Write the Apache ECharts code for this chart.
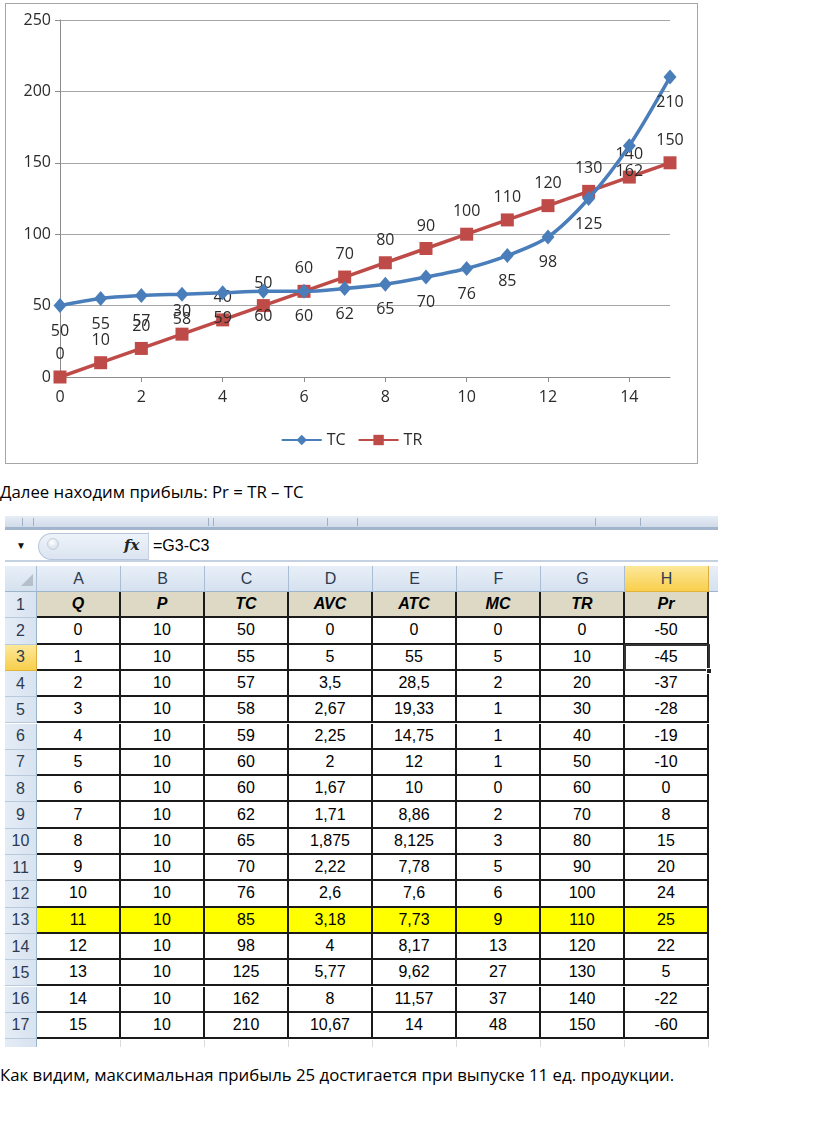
<!DOCTYPE html>
<html><head><meta charset="utf-8">
<script src="https://cdn.jsdelivr.net/npm/echarts@6/dist/echarts.min.js"></script>
<style>
html,body{margin:0;padding:0;background:#fff;}
#page{position:relative;width:816px;height:1146px;overflow:hidden;font-family:'Open Sans',sans-serif;}
#chartBox{position:absolute;left:5px;top:3px;width:691px;height:459px;border:1px solid #a6a6a6;}
#chart{width:691px;height:459px;}
.txt{position:absolute;left:0;white-space:nowrap;color:#000;font-size:16.8px;font-family:'Open Sans',sans-serif;}
.abs{position:absolute;box-sizing:border-box;}
.cell{position:absolute;box-sizing:border-box;display:flex;align-items:center;justify-content:center;font-family:'Liberation Sans',Arial,sans-serif;font-size:16px;color:#000;}
</style></head>
<body><div id="page">
<div id="chartBox"><div id="chart"></div></div>
<div class="txt" style="top:480px;">Далее находим прибыль: Pr = TR – TC</div>
<div id="sheet"></div>
<div class="txt" style="top:1063px;">Как видим, максимальная прибыль 25 достигается при выпуске 11 ед. продукции.</div>
</div>
<script>
// ---- data ----
const Q   = [0,1,2,3,4,5,6,7,8,9,10,11,12,13,14,15];
const P   = [10,10,10,10,10,10,10,10,10,10,10,10,10,10,10,10];
const TC  = [50,55,57,58,59,60,60,62,65,70,76,85,98,125,162,210];
const AVC = ['0','5','3,5','2,67','2,25','2','1,67','1,71','1,875','2,22','2,6','3,18','4','5,77','8','10,67'];
const ATC = ['0','55','28,5','19,33','14,75','12','10','8,86','8,125','7,78','7,6','7,73','8,17','9,62','11,57','14'];
const MC  = [0,5,2,1,1,1,0,2,3,5,6,9,13,27,37,48];
const TR  = [0,10,20,30,40,50,60,70,80,90,100,110,120,130,140,150];
const Pr  = [-50,-45,-37,-28,-19,-10,0,8,15,20,24,25,22,5,-22,-60];
const headers = ['Q','P','TC','AVC','ATC','MC','TR','Pr'];
const colLetters = ['A','B','C','D','E','F','G','H'];
const formula = '=G3-C3';
const seriesNames = ['TC','TR'];

// ---- chart ----
const chart = echarts.init(document.getElementById('chart'), null, {renderer:'canvas'});
const lblFont = {fontFamily:'Open Sans', fontSize:16, color:'#2b2b2b'};
chart.setOption({
  animation:false,
  grid:{left:54, top:16, width:610, height:357, containLabel:false},
  legend:{
    data:seriesNames, left:'center', top:423, itemWidth:40, itemHeight:13, itemGap:12,
    textStyle:{fontFamily:'Open Sans', fontSize:16, color:'#2b2b2b'}
  },
  xAxis:{
    type:'value', min:0, max:15, interval:2,
    axisLine:{lineStyle:{color:'#8c8c8c', width:1}},
    axisTick:{show:true, length:5, lineStyle:{color:'#8c8c8c'}},
    axisLabel:Object.assign({margin:12, showMaxLabel:false}, lblFont),
    splitLine:{show:false}
  },
  yAxis:{
    type:'value', min:0, max:250, interval:50,
    axisLine:{show:true, lineStyle:{color:'#8c8c8c', width:1}},
    axisTick:{show:true, length:5, lineStyle:{color:'#8c8c8c'}},
    axisLabel:Object.assign({margin:9}, lblFont),
    splitLine:{show:true, lineStyle:{color:'#a6a6a6', width:1}}
  },
  series:[
    {
      name:'TC', type:'line', smooth:0.3,
      data:Q.map((q,i)=>[q,TC[i]]),
      symbol:'diamond', symbolSize:[13,15],
      lineStyle:{color:'#4a7ebb', width:3.5},
      itemStyle:{color:'#4a7ebb'},
      label:Object.assign({show:true, position:'bottom', distance:10, formatter:p=>p.value[1]}, lblFont),
      z:3
    },
    {
      name:'TR', type:'line',
      data:Q.map((q,i)=>[q,TR[i]]),
      symbol:'rect', symbolSize:13,
      lineStyle:{color:'#be4b48', width:3.5},
      itemStyle:{color:'#be4b48'},
      label:Object.assign({show:true, position:'top', distance:8, formatter:p=>p.value[1]}, lblFont),
      z:2
    }
  ]
});

// ---- spreadsheet (HTML) ----
const sheet = document.getElementById('sheet');
function add(cls, style, text){
  const d = document.createElement('div');
  d.className = cls;
  d.setAttribute('style', style);
  if(text!==undefined) d.textContent = text;
  sheet.appendChild(d);
  return d;
}
// ribbon bottom strip
add('abs','left:5px;top:516px;width:713px;height:14px;background:linear-gradient(#e6edf6,#d0dbe9);border-bottom:3px solid #a3b5cc;');
[22,33,208,213,327,357,595,640].forEach(x=>add('abs',`left:${x}px;top:518px;width:1px;height:8px;background:#9fb0c4;`));
// formula bar
add('abs','left:5px;top:531px;width:713px;height:31px;background:#fff;border-bottom:2px solid #c3d1e2;');
add('abs','left:14px;top:537px;width:14px;height:16px;font-size:10px;color:#111;line-height:16px;text-align:center;','▼');
add('abs','left:38px;top:533px;width:110px;height:27px;background:linear-gradient(#eef3f9,#dbe4f0);border:1px solid #b6c6da;border-right:none;border-radius:14px 0 0 14px;');
add('abs','left:47px;top:538px;width:12px;height:12px;border-radius:6px;background:radial-gradient(circle at 40% 35%,#fff,#c9d4e2);border:1px solid #c4cfdd;');
add('abs','left:124px;top:534px;width:22px;height:22px;font-family:"DejaVu Serif",serif;font-style:italic;font-weight:bold;font-size:15px;color:#222;line-height:22px;','fx');
add('abs','left:148px;top:532px;width:1px;height:29px;background:#c3d1e2;');
add('abs','left:153px;top:533px;height:26px;line-height:26px;font-family:"Liberation Sans",Arial,sans-serif;font-size:16px;color:#000;white-space:nowrap;',formula);

// grid geometry
const colX = [5,37,121,205,289,373,457,541,625,709];
const hdrTop = 566, hdrH = 26, rowTop = 592, rowH = 26.3;
const hdrBg = 'linear-gradient(#e8eff8,#d5e1ef)';
const selBg = 'linear-gradient(#fde89a,#f8cf4c)';
// corner
add('abs',`left:5px;top:${hdrTop}px;width:32px;height:${hdrH}px;background:${hdrBg};border-right:1px solid #a9bed6;border-bottom:1px solid #9db4cd;`);
add('abs',`left:21px;top:${hdrTop+8}px;width:0;height:0;border-left:12px solid transparent;border-bottom:12px solid #b5bfca;`);
// column headers
colLetters.forEach((L,i)=>{
  const sel = (L==='H');
  add('cell',`left:${colX[i+1]}px;top:${hdrTop}px;width:84px;height:${hdrH}px;background:${sel?selBg:hdrBg};border-right:1px solid ${sel?'#d9ae3c':'#a9bed6'};border-bottom:1px solid ${sel?'#e2b33c':'#9db4cd'};color:#2d3a4f;`, L);
});
add('abs',`left:709px;top:${hdrTop}px;width:9px;height:${hdrH}px;background:${hdrBg};border-bottom:1px solid #9db4cd;`);

// rows
const rows = [headers];
for(let i=0;i<Q.length;i++) rows.push([Q[i],P[i],TC[i],AVC[i],ATC[i],MC[i],TR[i],Pr[i]]);
rows.forEach((r,ri)=>{
  const rn = ri+1;
  const top = rowTop + ri*rowH;
  const sel = (rn===3);
  add('cell',`left:5px;top:${top}px;width:32px;height:${rowH}px;background:${sel?selBg:'linear-gradient(90deg,#e4ecf6,#d8e3f0)'};border-right:1px solid ${sel?'#d9ae3c':'#9db4cd'};border-bottom:1px solid ${sel?'#e2b33c':'#b8c9dc'};color:#2d3a4f;`, rn);
  r.forEach((v,ci)=>{
    let bg = '#fff', extra='';
    if(rn===1){ bg='#ddd9c4'; extra='font-weight:bold;font-style:italic;'; }
    if(rn===13){ bg='#ffff00'; }
    add('cell',`left:${colX[ci+1]}px;top:${top}px;width:84px;height:${rowH}px;background:${bg};border-right:2px solid #1a1a1a;border-bottom:2px solid #1a1a1a;${extra}`, v);
  });
});
// partial row 18
const t18 = rowTop + rows.length*rowH;
add('abs',`left:5px;top:${t18}px;width:32px;height:8px;background:linear-gradient(90deg,#e4ecf6,#d8e3f0);border-right:1px solid #9db4cd;`);
colX.slice(2).forEach(x=>add('abs',`left:${x-1}px;top:${t18+1}px;width:1px;height:7px;background:#dadada;`));
// active cell H3
const h3top = rowTop + 2*rowH;
add('abs',`left:${colX[8]-1}px;top:${h3top-1}px;width:86px;height:${rowH+1.5}px;border:2.5px solid #333;`);
add('abs',`left:${colX[9]-3}px;top:${h3top+rowH-3}px;width:6px;height:6px;background:#222;border:1px solid #fff;`);
</script>
</body></html>
